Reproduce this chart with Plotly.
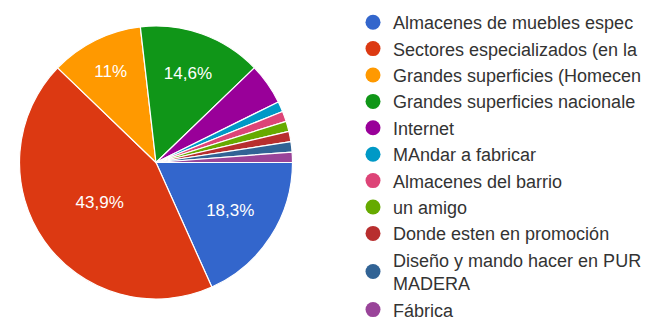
import plotly.graph_objects as go

labels = [
    "Almacenes de muebles espec",
    "Sectores especializados (en la",
    "Grandes superficies (Homecen",
    "Grandes superficies nacionale",
    "Internet",
    "MAndar a fabricar",
    "Almacenes del barrio",
    "un amigo",
    "Donde esten en promoción",
    "Diseño y mando hacer en PUR<br>MADERA",
    "Fábrica",
]
counts = [15, 36, 9, 12, 4, 1, 1, 1, 1, 1, 1]
colors = ["#3366cc", "#dc3912", "#ff9900", "#109618", "#990099", "#0099c6",
          "#dd4477", "#66aa00", "#b82e2e", "#316395", "#994499"]

total = sum(counts)
texts = []
for c in counts:
    p = c / total * 100
    if p < 10:
        texts.append("")
    else:
        s = f"{p:.1f}"
        if s.endswith(".0"):
            s = s[:-2]
        texts.append(s.replace(".", ",") + "%")

W, H = 649, 333
fig = go.Figure()
fig.add_trace(go.Pie(
    labels=labels, values=counts, sort=False, direction="clockwise", rotation=90,
    marker=dict(colors=colors, line=dict(color="white", width=1.2)),
    text=texts, textinfo="text", textposition="inside",
    insidetextorientation="horizontal",
    textfont=dict(color="white", size=17, family="Liberation Sans, Arial"),
    showlegend=False, hoverinfo="label+percent",
    domain=dict(x=[18 / W, 294 / W], y=[(H - 299) / H, (H - 26) / H]),
))
for lab, col in zip(labels, colors):
    fig.add_trace(go.Scatter(
        x=[None], y=[None], mode="markers", name=lab,
        marker=dict(symbol="circle", size=15, color=col),
        showlegend=True, hoverinfo="skip",
    ))

fig.update_layout(
    width=W, height=H, margin=dict(l=0, r=0, t=0, b=0, autoexpand=False),
    paper_bgcolor="white", plot_bgcolor="white",
    xaxis=dict(visible=False), yaxis=dict(visible=False),
    font=dict(family="Liberation Sans, Arial", color="#333333"),
    legend=dict(x=353 / W, y=1.0 - 4 / H, xanchor="left", yanchor="top",
                font=dict(size=18, color="#333333"), bgcolor="rgba(0,0,0,0)",
                itemclick=False, tracegroupgap=0),
)
fig.write_html("out.html")
